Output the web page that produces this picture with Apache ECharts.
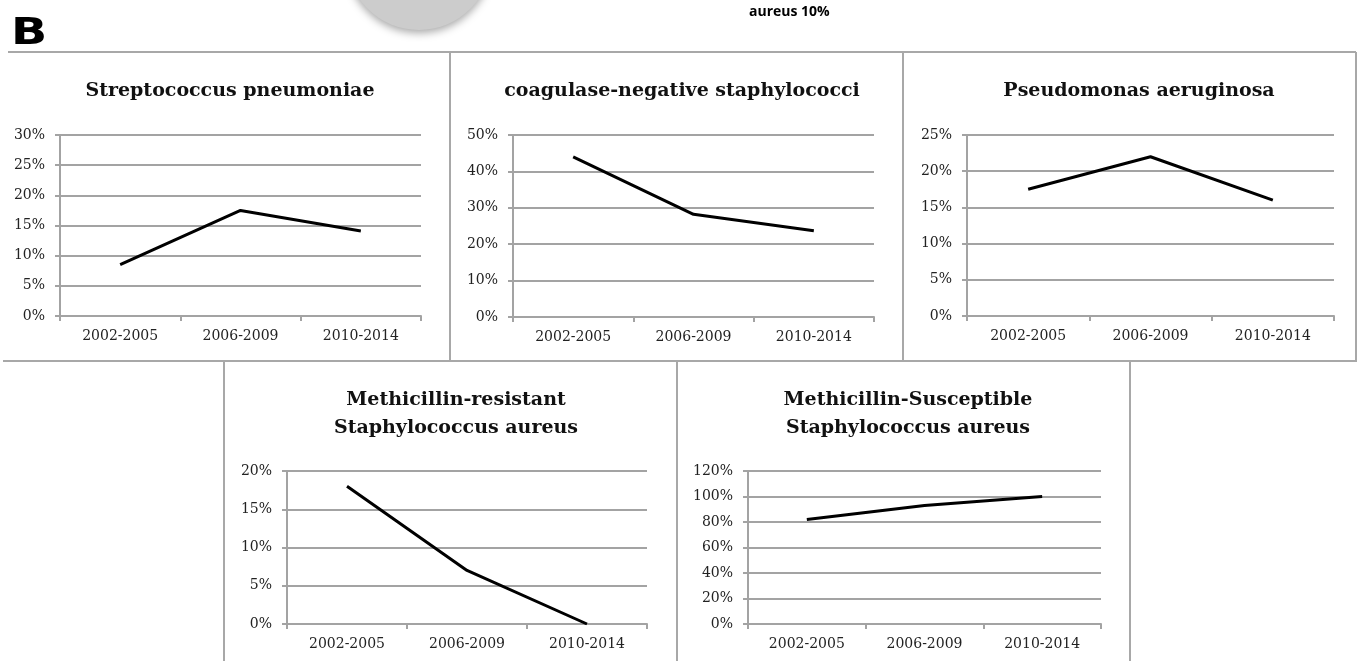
<!DOCTYPE html>
<html>
<head>
<meta charset="utf-8">
<title>Pathogens 2002-2014</title>
<script src="https://cdn.jsdelivr.net/npm/echarts@6/dist/echarts.min.js"></script>
<style>
  html, body { margin: 0; padding: 0; background: #fff; }
  #mainChart { width: 1366px; height: 661px; }
</style>
</head>
<body>
<div id="mainChart"></div>
<script>
// periods on x axis
const periods = ['2002-2005', '2006-2009', '2010-2014']

// titles of the panels
const panelTitles = [
  'Streptococcus pneumoniae',
  'coagulase-negative staphylococci',
  'Pseudomonas aeruginosa',
  'Methicillin-resistant\nStaphylococcus aureus',
  'Methicillin-Susceptible\nStaphylococcus aureus'
]

// values (%)
const strepPneumo = [8.5, 17.5, 14.1]
const coagNeg = [44, 28.2, 23.7]
const pseudomonas = [17.5, 22, 16]
const mrsa = [18, 7, 0]
const mssa = [82, 93, 100]

// y axis max / step of each panel
const yMax = [30, 50, 25, 20, 120]
const yStep = [5, 10, 5, 5, 20]

const seriesData = [strepPneumo, coagNeg, pseudomonas, mrsa, mssa]

// grid boxes (left, top, width, height)
const grids = [
  {left: 60, top: 135, width: 361, height: 181},
  {left: 513, top: 135, width: 361, height: 182},
  {left: 967, top: 135, width: 367, height: 181},
  {left: 287, top: 471, width: 360, height: 153},
  {left: 748, top: 471, width: 353, height: 153}
]
const titlePos = [
  {x: 225, y: 72},
  {x: 677, y: 72},
  {x: 1134, y: 72},
  {x: 451, y: 381},
  {x: 903, y: 381}
]

const axisGray = '#a3a3a3'
const serif = 'DejaVu Serif'

let option = {
  backgroundColor: '#fff',
  animation: false,
  title: [],
  grid: [],
  xAxis: [],
  yAxis: [],
  series: [],
  graphic: []
}

for (let i = 0; i < seriesData.length; i++) {
  option.title.push({
    text: panelTitles[i],
    left: titlePos[i].x,
    top: titlePos[i].y,
    textAlign: 'center',
    textStyle: {
      fontFamily: serif,
      fontWeight: 'bold',
      fontSize: 19,
      lineHeight: 28,
      color: '#111'
    }
  })
  option.grid.push(grids[i])
  option.xAxis.push({
    gridIndex: i,
    type: 'category',
    data: periods,
    boundaryGap: true,
    axisLine: {show: true, lineStyle: {color: axisGray, width: 2}},
    axisTick: {show: true, length: 5, lineStyle: {color: axisGray, width: 2}},
    axisLabel: {fontFamily: serif, fontSize: 14, color: '#222', margin: 13},
    splitLine: {show: false}
  })
  option.yAxis.push({
    gridIndex: i,
    type: 'value',
    min: 0,
    max: yMax[i],
    interval: yStep[i],
    axisLine: {show: true, lineStyle: {color: axisGray, width: 2}},
    axisTick: {show: true, length: 5, lineStyle: {color: axisGray, width: 2}},
    axisLabel: {
      fontFamily: serif, fontSize: 14, color: '#222', margin: 15,
      formatter: function (value) {
        return value + '%'
      }
    },
    splitLine: {show: true, lineStyle: {color: axisGray, width: 2}}
  })
  option.series.push({
    type: 'line',
    xAxisIndex: i,
    yAxisIndex: i,
    symbol: 'none',
    lineStyle: {color: '#000', width: 3},
    data: seriesData[i]
  })
}

// panel frame lines
const frameLines = [
  [8, 52, 1356, 52],
  [450, 52, 450, 361],
  [903, 52, 903, 361],
  [1356, 52, 1356, 361],
  [3, 361, 1357, 361],
  [224, 361, 224, 661],
  [677, 361, 677, 661],
  [1130, 361, 1130, 661]
]
frameLines.forEach((l) => {
  option.graphic.push({
    type: 'line',
    silent: true,
    shape: {x1: l[0], y1: l[1], x2: l[2], y2: l[3]},
    style: {stroke: '#a8a8a8', lineWidth: 2}
  })
})

// leftovers of the panel above (cut off)
option.graphic.push({
  type: 'circle',
  silent: true,
  shape: {cx: 419, cy: -43, r: 73},
  style: {
    fill: '#cccccc',
    shadowBlur: 8,
    shadowColor: 'rgba(0,0,0,0.35)',
    shadowOffsetY: 3
  }
})
option.graphic.push({
  type: 'text',
  silent: true,
  left: 749,
  top: 5,
  style: {
    text: 'aureus 10%',
    fontFamily: 'Open Sans',
    fontWeight: 'bold',
    fontSize: 14,
    fill: '#000'
  }
})
option.graphic.push({
  type: 'text',
  silent: true,
  x: 11,
  y: 15,
  scaleX: 1.25,
  style: {
    text: 'B',
    fontFamily: 'DejaVu Sans',
    fontWeight: 'bold',
    fontSize: 38,
    fill: '#000'
  }
})

const chart = echarts.init(document.getElementById('mainChart'))
chart.setOption(option)
</script>
</body>
</html>
